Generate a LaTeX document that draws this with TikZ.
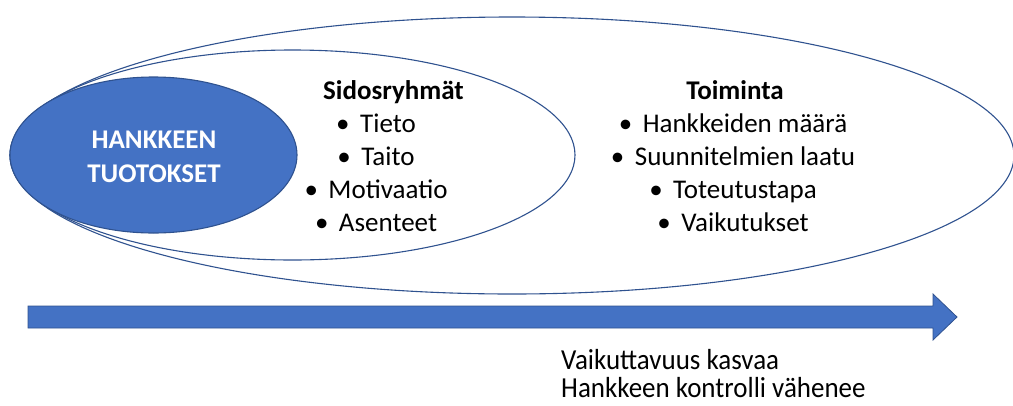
\documentclass[tikz,border=0pt]{standalone}
\usepackage{fontspec}
\setmainfont{Carlito}
\usetikzlibrary{shapes.geometric}
\definecolor{officeblue}{HTML}{4472C4}
\definecolor{edgeblue}{HTML}{2F528F}
\begin{document}
\begin{tikzpicture}[x=1pt,y=-1pt,
  ring/.style={draw=edgeblue, line width=1.1pt, ellipse, inner sep=0pt},
  item/.style={inner sep=0pt, anchor=base, font=\fontsize{27}{32}\selectfont},
  headline/.style={item, font=\fontsize{27}{32}\selectfont\bfseries},
  coretext/.style={item, text=white, font=\fontsize{27}{32}\selectfont\bfseries},
  note/.style={inner sep=0pt, anchor=base west, font=\fontsize{29}{32}\selectfont},
  bigarrow/.style={fill=officeblue, draw=edgeblue, line width=0.8pt, line join=miter}]
\useasboundingbox (0,0) rectangle (1013,405);
\clip (0,0) rectangle (1013,405);

% nested scopes
\node[ring, minimum width=1004pt, minimum height=277pt] (outer) at (512,155.5) {};
\node[ring, minimum width=565pt, minimum height=210pt] (inner) at (292.5,155) {};
\node[ring, fill=officeblue, minimum width=287pt, minimum height=156pt] (core) at (153.5,155) {};

% core label
\node[coretext] (c1) at (154,148) {HANKKEEN};
\node[coretext] (c2) at (154,182) {TUOTOKSET};

% stakeholder list
\node[headline] (s0) at (393.5,99) {Sidosryhmät};
\node[item] (s1) at (388,132) {Tieto};
\node[item] (s2) at (388,165) {Taito};
\node[item] (s3) at (388,198) {Motivaatio};
\node[item] (s4) at (388,231) {Asenteet};
\foreach \n in {s1,s2,s3,s4}
  \node[item] (\n b) at ([xshift=-17pt]\n.base west) {•};

% activity list
\node[headline] (a0) at (735,99) {Toiminta};
\node[item] (a1) at (745,132) {Hankkeiden määrä};
\node[item] (a2) at (745,165) {Suunnitelmien laatu};
\node[item] (a3) at (745,198) {Toteutustapa};
\node[item] (a4) at (745,231) {Vaikutukset};
\foreach \n in {a1,a2,a3,a4}
  \node[item] (\n b) at ([xshift=-17pt]\n.base west) {•};

% direction arrow
\draw[bigarrow] (28,306) -- (933,306) -- (933,294) -- (957,317)
  -- (933,340) -- (933,328) -- (28,328) -- cycle;

% captions under the arrow
\node[note] (n1) at (561,369) {\scalebox{0.93}[1]{Vaikuttavuus kasvaa}};
\node[note] (n2) at (561,397.5) {\scalebox{0.93}[1]{Hankkeen kontrolli vähenee}};
\end{tikzpicture}
\end{document}
